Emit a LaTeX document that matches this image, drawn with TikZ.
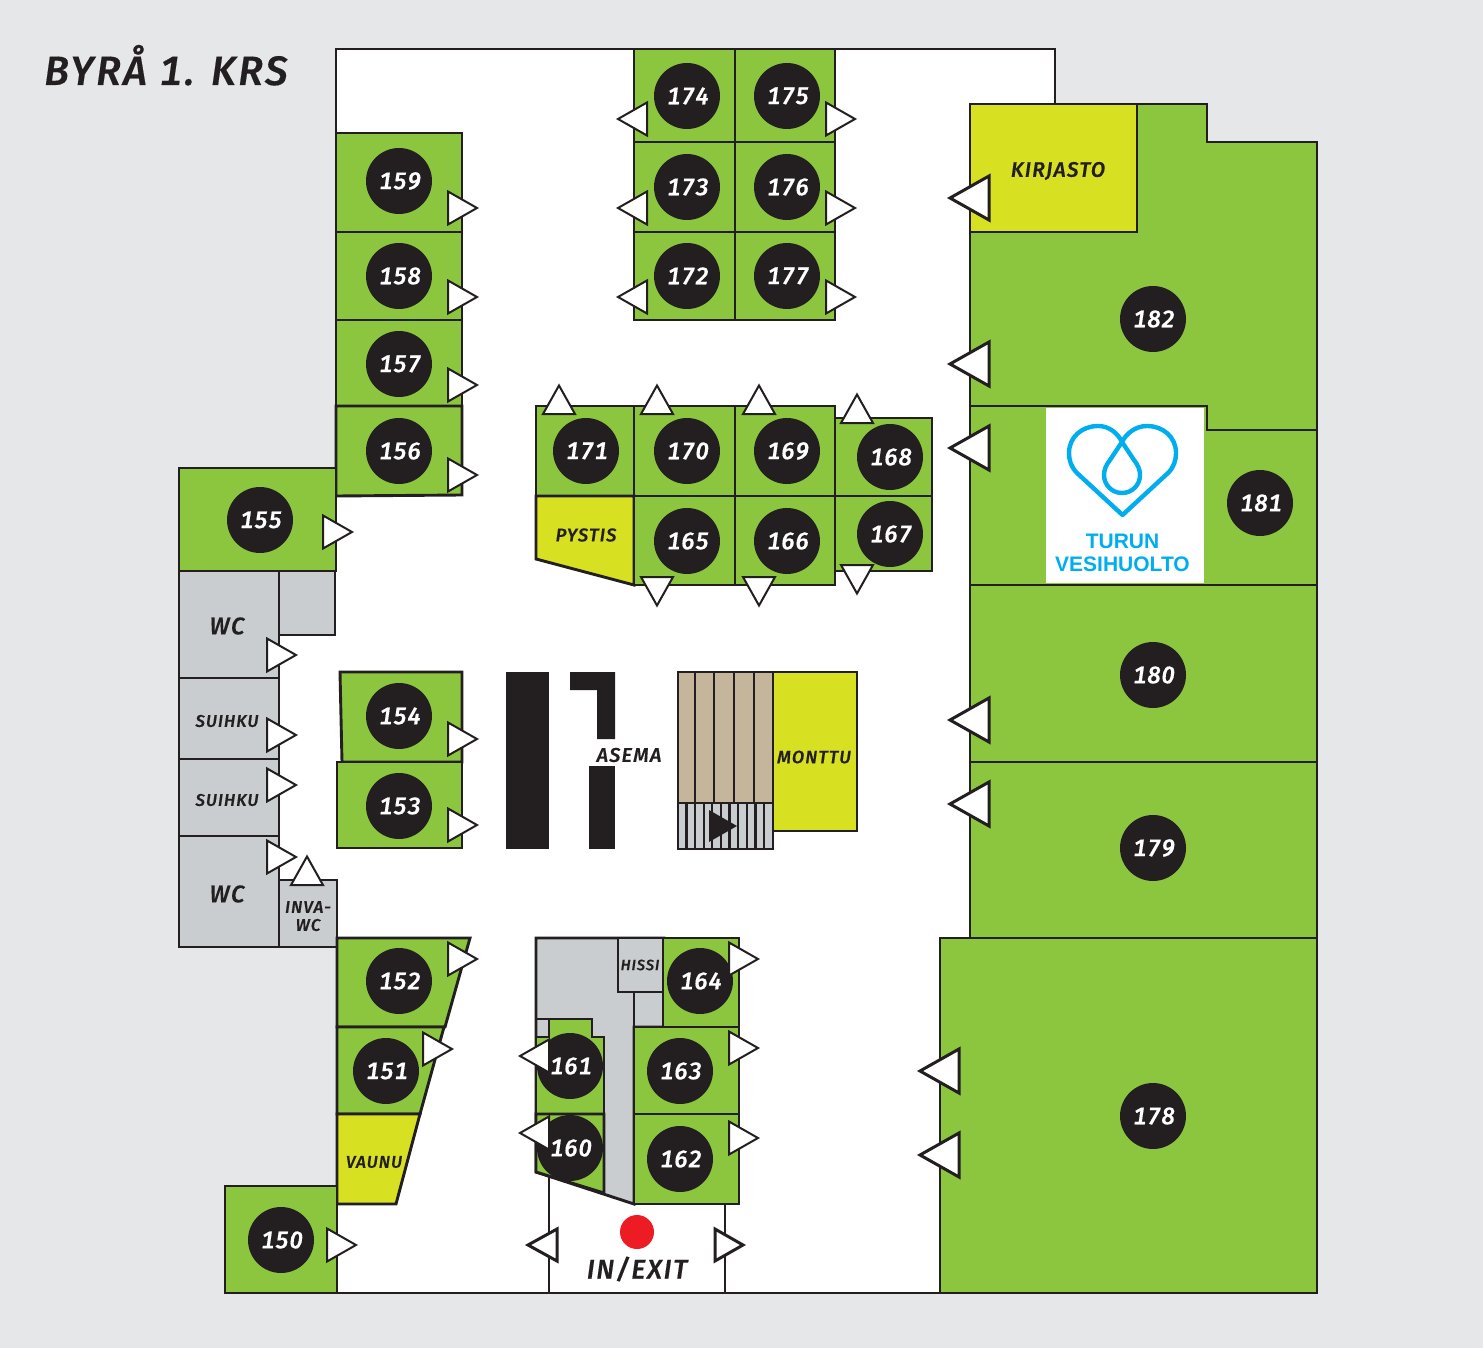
\documentclass[tikz,border=0pt]{standalone}
\usepackage{fontspec}
\setmainfont{Fira Sans}[ItalicFont={Fira Sans Medium Italic},ItalicFeatures={FakeBold=0.35},BoldFont={Fira Sans Bold},LetterSpace=6,Numbers={Monospaced,Lining}]
\newfontfamily\logofont{Liberation Sans}[BoldFont={Liberation Sans Bold}]
\definecolor{bgc}{HTML}{E6E7E9}
\definecolor{ink}{HTML}{231F20}
\definecolor{grn}{HTML}{8CC63F}
\definecolor{yel}{HTML}{D7E021}
\definecolor{gry}{HTML}{C9CDD0}
\definecolor{tan}{HTML}{C4B59B}
\definecolor{cyn}{HTML}{00AEEF}
\definecolor{redd}{HTML}{ED1C24}
\newcommand\fs[1]{\fontsize{#1}{#1}\selectfont\itshape}
\newcommand\triR[2]{\draw[tri] (#1,#2) ++(0,-16.5) -- ++(29,16.5) -- ++(-29,16.5) -- cycle;}
\newcommand\triL[2]{\draw[tri] (#1,#2) ++(0,-16.5) -- ++(-29,16.5) -- ++(29,16.5) -- cycle;}
\newcommand\triU[2]{\draw[tri] (#1,#2) ++(-16,0) -- ++(16,-28.5) -- ++(16,28.5) -- cycle;}
\newcommand\triD[2]{\draw[tri] (#1,#2) ++(-16,0) -- ++(16,28.5) -- ++(16,-28.5) -- cycle;}
\newcommand\triBig[2]{\draw[tribig] (#1,#2) ++(0,-22) -- ++(-39,22) -- ++(39,22) -- cycle;}
\tikzset{
 room/.style={draw=ink,line width=2.9pt,line join=miter,fill=grn},
 yroom/.style={room,fill=yel},
 groom/.style={room,fill=gry},
 tri/.style={draw=ink,line width=2pt,fill=white,line join=miter},
 tribig/.style={draw=ink,line width=3pt,fill=white,line join=miter},
 num/.style={circle,fill=ink,minimum size=66pt,inner sep=0pt,text=white,font=\fs{24}},
 lab/.style={text=ink,inner sep=0pt,font=\fs{19}},
 wall/.style={draw=ink,line width=2.9pt},
}
\begin{document}
\begin{tikzpicture}[x=1pt,y=-1pt]
\fill[bgc] (0,0) rectangle (1483,1348);
\useasboundingbox (0,0) rectangle (1483,1348);
% floor
\fill[white] (336,49) -- (1055,49) -- (1055,1293) -- (337,1293) -- (337,938) -- (280,938) -- (280,572) -- (336,572) -- cycle;
\draw[wall,line join=miter] (336,140) -- (336,49) -- (1055,49) -- (1055,110);
\draw[wall] (225,1293) -- (1317,1293);
% left column
\draw[room] (336,133) rectangle (462,232);
\draw[room] (336,232) rectangle (462,320);
\draw[room] (336,320) rectangle (462,406);
\draw[room] (336,406) -- (462,406) -- (462,495) -- (336,496) -- cycle;
\draw[room] (179,468) rectangle (336,571);
\draw[groom] (279,571) rectangle (335,635);
\draw[groom] (179,571) rectangle (279,678);
\draw[groom] (179,678) rectangle (279,759);
\draw[groom] (179,759) rectangle (279,836);
\draw[groom] (179,836) rectangle (279,947);
\draw[groom] (279,880) rectangle (337,947);
\draw[room] (340,672) -- (462,672) -- (462,762) -- (342,762) -- cycle;
\draw[room] (337,762) rectangle (462,848);
\draw[room] (337,938) -- (470,938) -- (445,1027) -- (337,1027) -- cycle;
\draw[room] (337,1027) -- (444,1027) -- (420,1114) -- (337,1114) -- cycle;
\draw[yroom] (337,1114) -- (420,1114) -- (396,1204) -- (337,1204) -- cycle;
\draw[room] (225,1186) rectangle (337,1293);
% top block
\draw[room] (634,49) rectangle (735,142);
\draw[room] (735,49) rectangle (835,142);
\draw[room] (634,142) rectangle (735,232);
\draw[room] (735,142) rectangle (835,232);
\draw[room] (634,232) rectangle (735,320);
\draw[room] (735,232) rectangle (835,320);
% middle block
\draw[room] (536,406) rectangle (634,496);
\draw[room] (634,406) rectangle (735,496);
\draw[room] (735,406) rectangle (835,496);
\draw[room] (835,418) rectangle (932,496);
\draw[yroom] (536,496) -- (634,496) -- (634,585) -- (536,559) -- cycle;
\draw[room] (634,496) rectangle (735,585);
\draw[room] (735,496) rectangle (835,585);
\draw[room] (835,496) rectangle (932,571);
% asema
\fill[ink] (506,672) rectangle (549,849);
\fill[ink] (570,672) -- (615,672) -- (615,739) -- (597,739) -- (597,690) -- (570,690) -- cycle;
\fill[ink] (589,766) rectangle (615,849);
% stairs
\draw[room,fill=tan] (678,672) rectangle (773,803);
\foreach \x in {695,714,734,754} \draw[wall] (\x,672) -- (\x,803);
\draw[groom] (678,803) rectangle (773,849);
\foreach \x in {686.5,695,704,712,721,729.5,738,747,755.5,764} \draw[ink,line width=2.2pt] (\x,803) -- (\x,849);
\fill[ink] (709,810) -- (737,826) -- (709,842) -- cycle;
\draw[yroom] (773,672) rectangle (857,831);
% lower block
\draw[groom] (536,938) -- (664,938) -- (664,1027) -- (634,1027) -- (634,1204) -- (536,1172) -- cycle;
\draw[wall] (634,992) -- (634,1204);
\draw[groom] (618,938) rectangle (663,992);
\draw[room] (663,938) rectangle (739,1027);
\draw[room] (634,1027) rectangle (739,1114);
\draw[room] (634,1114) rectangle (739,1204);
\draw[wall] (536,1019) -- (592,1019);
\draw[room] (549,1019) -- (592,1019) -- (592,1037) -- (604,1037) -- (604,1114) -- (536,1114) -- (536,1037) -- (549,1037) -- cycle;
\draw[room] (536,1114) -- (604,1114) -- (604,1193) -- (536,1172) -- cycle;
\draw[wall] (549,1176) -- (549,1293);
\draw[wall] (725,1204) -- (725,1293);
\fill[redd] (637,1232) circle (17);
% right column
\draw[room] (970,104) -- (1207,104) -- (1207,142) -- (1317,142) -- (1317,430) -- (1207,430) -- (1207,406) -- (970,406) -- cycle;
\draw[yroom] (970,104) -- (1137,104) -- (1137,232) -- (970,232) -- cycle;
\draw[room] (970,406) -- (1207,406) -- (1207,430) -- (1317,430) -- (1317,585) -- (970,585) -- cycle;
\fill[white] (1046,407.5) rectangle (1204,583);
\draw[room] (970,585) rectangle (1317,762);
\draw[room] (970,762) rectangle (1317,938);
\draw[room] (940,938) rectangle (1317,1293);
% logo
\draw[cyn,line width=4.4pt,line join=round]
 (1122.5,515) -- (1077,473) .. controls (1071,467) and (1069,460) .. (1069,453)
 .. controls (1069,437) and (1082,426) .. (1098,426)
 .. controls (1110,426) and (1118,434) .. (1122,442)
 -- (1134,460) .. controls (1138,465) and (1140,470) .. (1140,475)
 .. controls (1140,485) and (1132,493) .. (1122,493)
 .. controls (1112,493) and (1104,485) .. (1104,475)
 .. controls (1104,470) and (1106,465) .. (1110,460)
 -- (1122,442) .. controls (1126,434) and (1135,426) .. (1147,426)
 .. controls (1163,426) and (1176,437) .. (1176,453)
 .. controls (1176,460) and (1174,467) .. (1168,473) -- cycle;
\node[text=cyn,inner sep=0pt,font=\logofont\bfseries\fontsize{21}{21}\selectfont] (turun) at (1122.5,541) {TURUN};
\node[text=cyn,inner sep=0pt,font=\logofont\bfseries\fontsize{21}{21}\selectfont] (vesi) at (1122.5,564) {VESIHUOLTO};
% number circles
\foreach \n/\x/\y in {159/399/181,158/399/276,157/399/364,156/399/451,155/260/520,154/399/716,153/399/806,152/399/981,151/386/1071,150/281/1240,
 174/687/96,175/787/96,173/687/187,176/787/187,172/687/276,177/787/276,
 171/586/451,170/687/451,169/787/451,168/890/457,165/687/541,166/787/541,167/890/534,
 164/700/981,163/680/1071,162/680/1159,161/570/1066,160/570/1148,
 182/1153/319,181/1260/503,180/1153/675,179/1153/848,178/1153/1116}
 {\node[num] (r\n) at (\x,\y) {\hspace*{2pt}\addfontfeature{LetterSpace=3}\n};}
% triangles
\foreach \x/\y in {448/208,448/297,448/385,448/475,323/532,267/655,267/735,267/785,267/857,448/739,448/825,448/959,423/1049,327/1245,
 826/119,826/208,826/297,729/959,729/1048,729/1138} {\triR{\x}{\y}}
\foreach \x/\y in {647/119,647/208,647/297,549/1056,549/1133} {\triL{\x}{\y}}
\foreach \x/\y in {559/414,657/414,759/414,857/423,307/885} {\triU{\x}{\y}}
\foreach \x/\y in {657/577,759/577,857/565} {\triD{\x}{\y}}
\foreach \x/\y in {989/198,989/364,989/448,989/720,989/804,959/1071,959/1155} {\triBig{\x}{\y}}
\draw[tribig] (557,1229) -- (528,1245) -- (557,1261) -- cycle;
\draw[tribig] (715,1229) -- (743,1245) -- (715,1261) -- cycle;
% labels
\node[lab,font=\fs{41},anchor=base west] (title) at (44,85) {BYRÅ 1. KRS};
\node[lab,font=\fs{21}] (kirjasto) at (1058,171) {KIRJASTO};
\node[lab,font=\fs{24}] (wc1) at (227,626) {WC};
\node[lab,font=\fs{17}] (su1) at (227,721) {SUIHKU};
\node[lab,font=\fs{17}] (su2) at (227,800) {SUIHKU};
\node[lab,font=\fs{24}] (wc2) at (227,894) {WC};
\node[lab,font=\fs{17}] (inva) at (308,907) {INVA-};
\node[lab,font=\fs{17}] (invawc) at (308,925) {WC};
\node[lab,font=\fs{18.5}] (pystis) at (586,535) {PYSTIS};
\node[lab,font=\fs{20}] (asema) at (629,755) {ASEMA};
\node[lab,font=\fs{18}] (monttu) at (814,757) {MONTTU};
\node[lab,font=\fs{15}] (hissi) at (640,965) {HISSI};
\node[lab,font=\fs{17}] (vaunu) at (374,1162) {VAUNU};
\node[lab,font=\fs{27}] (inexit) at (637,1269) {IN/EXIT};
\end{tikzpicture}
\end{document}
